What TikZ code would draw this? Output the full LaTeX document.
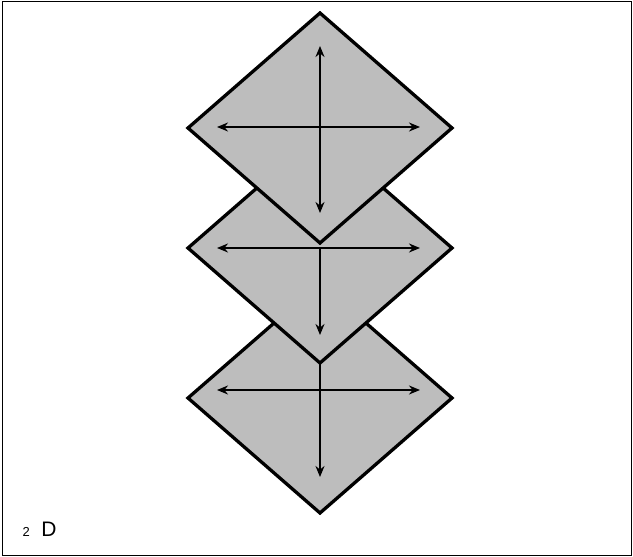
\documentclass[tikz,border=0pt]{standalone}
\usepackage{fontspec}
\setmainfont{Liberation Sans}
\usetikzlibrary{arrows.meta}
\begin{document}
\begin{tikzpicture}[x=1pt,y=-1pt,
  tile/.style={fill=black!26, draw=black, line width=3.3pt, line join=miter},
  axis/.style={draw=black, line width=2.3pt, -{Stealth[length=11pt,width=9pt]}},
  biaxis/.style={draw=black, line width=2.3pt, {Stealth[length=11pt,width=9pt]}-{Stealth[length=11pt,width=9pt]}},
  lbl/.style={inner sep=0pt, anchor=base west}]
\useasboundingbox (0,0) rectangle (633,557);
\draw[line width=1.6pt] (2.5,1.5) rectangle (631.5,555.5);

% bottom tile
\draw[tile] (320,283) -- (452,398) -- (320,513) -- (188,398) -- cycle;
\coordinate (bL) at (217,390);
\coordinate (bR) at (420,390);
\coordinate (bT) at (320,363);
\coordinate (bB) at (320,477);
\draw[biaxis] (bL) -- (bR);
\draw[axis] (bT) -- (bB);

% middle tile
\draw[tile] (320,133) -- (452,248) -- (320,363) -- (188,248) -- cycle;
\coordinate (mL) at (217,248);
\coordinate (mR) at (420,248);
\coordinate (mT) at (320,247);
\coordinate (mB) at (320,335);
\draw[biaxis] (mL) -- (mR);
\draw[axis] (mT) -- (mB);

% top tile
\draw[tile] (320,13) -- (452,128) -- (320,243) -- (188,128) -- cycle;
\coordinate (tL) at (217,127);
\coordinate (tR) at (420,127);
\coordinate (tT) at (320,46);
\coordinate (tB) at (320,213);
\draw[biaxis] (tL) -- (tR);
\draw[biaxis] (tT) -- (tB);

\node[lbl, font=\fontsize{13pt}{14pt}\selectfont] (two) at (22.5,536) {2};
\node[lbl, font=\fontsize{21pt}{22pt}\selectfont] (dee) at (41.3,536) {D};
\end{tikzpicture}
\end{document}
